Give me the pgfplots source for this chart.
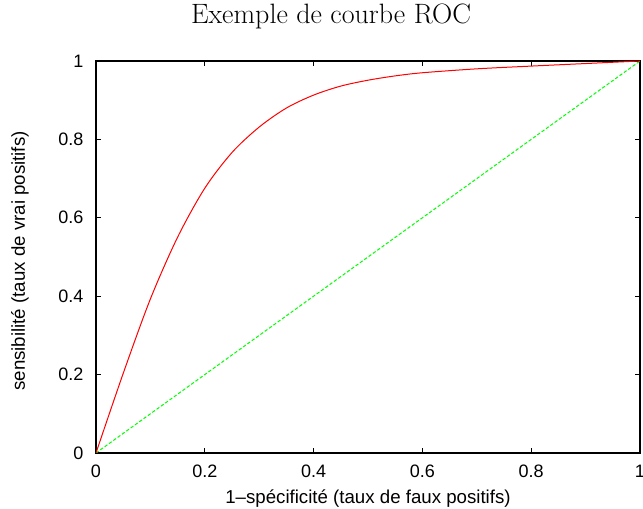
\documentclass[border=0pt]{standalone}
\usepackage{fontspec}
\usepackage{pgfplots}
\pgfplotsset{compat=1.18}
\newfontfamily\lib{Liberation Sans}
\definecolor{gpred}{rgb}{1,0,0}
\definecolor{gpgreen}{rgb}{0,1,0}
\begin{document}
\begin{tikzpicture}
\begin{axis}[
  at={(0,0)}, anchor=south west,
  scale only axis, width=408pt, height=294pt,
  xmin=0, xmax=1, ymin=0, ymax=1,
  xtick={0,0.2,0.4,0.6,0.8,1},
  ytick={0,0.2,0.4,0.6,0.8,1},
  tick align=inside, major tick length=3.75pt,
  axis line style={line width=0.8pt},
  tick style={black, line width=0.6pt},
  /pgf/number format/assume math mode=true,
  ticklabel style={font=\lib\fontsize{13.5}{15}\selectfont},
  xticklabel style={yshift=-5.25pt},
  yticklabel style={xshift=-6pt},
  xlabel={1–spécificité (taux de faux positifs)},
  ylabel={sensibilité (taux de vrai positifs)},
  label style={font=\lib\fontsize{14}{16}\selectfont},
  xlabel style={at={(axis description cs:0.5,-0.1276)}, anchor=base},
  ylabel style={at={(axis description cs:-0.1397,0.49)}, anchor=center},
  title={Exemple de courbe ROC},
  title style={at={(axis description cs:0.432,1.0747)}, anchor=base, font=\fontsize{21}{24}\selectfont},
]
\addplot[gpgreen, line width=0.75pt, dash pattern=on 2.5pt off 1.5pt] coordinates {(0,0) (1,1)};
\addplot[gpred, line width=0.75pt, smooth, tension=0.5] coordinates {
(0,0) (0.05,0.203) (0.1,0.393) (0.15,0.5505) (0.2,0.6755) (0.25,0.7665)
(0.3,0.8315) (0.35,0.880) (0.4,0.913) (0.45,0.936) (0.5,0.951)
(0.55,0.962) (0.6,0.970) (0.7,0.980) (0.8,0.987) (0.9,0.9935) (1,1)};
\end{axis}
\pgfresetboundingbox
\path[use as bounding box] (-72pt,-42pt) rectangle (410.25pt,339.75pt);
\end{tikzpicture}
\end{document}
